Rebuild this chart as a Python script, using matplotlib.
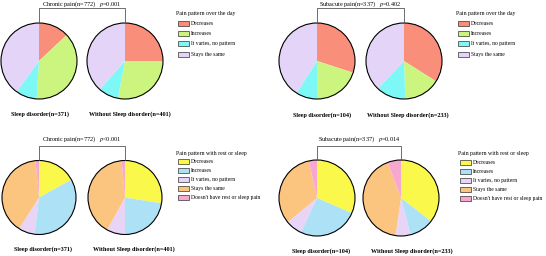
import matplotlib
matplotlib.use("Agg")
import matplotlib.pyplot as plt
from matplotlib.patches import Circle, Rectangle

plt.rcParams['font.family'] = ['Liberation Serif', 'DejaVu Serif']
plt.rcParams['mathtext.fontset'] = 'stix'

# categories
day_labels = ["Decreases", "Increases", "It varies, no pattern", "Stays the same"]
rest_labels = ["Decreases", "Increases", "It varies, no pattern", "Stays the same",
               "Doesn't have rest or sleep pain"]
day_colors = ["#F98F7B", "#CBF57E", "#7DF8F6", "#E4D4F8"]
rest_colors = ["#FBF84C", "#ADE2F6", "#E8D4F6", "#FBC47F", "#F8A8D0"]

# percentages
chronic_day_sleep = [13, 38, 9, 40]
chronic_day_nosleep = [25, 28, 8.5, 38.5]
subacute_day_sleep = [30, 20, 9, 41]
subacute_day_nosleep = [34, 15.5, 12.5, 38]
chronic_rest_sleep = [17, 35, 7, 39.5, 1.5]
chronic_rest_nosleep = [27.5, 22.5, 8, 40.5, 1.5]
subacute_rest_sleep = [31.5, 25.5, 7, 32.5, 3.5]
subacute_rest_nosleep = [35.5, 10.5, 6.3, 42, 5.7]

group_titles = ["Chronic pain(n=772)", "Subacute pain(n=337)",
                "Chronic pain(n=772)", "Subacute pain(n=337)"]
p_values = ["=0.001", "=0.402", "<0.001", "=0.014"]
left_names = ["Sleep disorder(n=371)", "Sleep disorder(n=104)",
              "Sleep disorder(n=371)", "Sleep disorder(n=104)"]
right_names = ["Without Sleep disorder(n=401)", "Without Sleep disorder(n=233)",
               "Without Sleep disorder(n=401)", "Without Sleep disorder(n=233)"]
legend_titles = ["Pain pattern over the day", "Pain pattern over the day",
                 "Pain pattern with rest or sleep", "Pain pattern with rest or sleep"]

W, H = 546, 256
fig = plt.figure(figsize=(W / 100, H / 100), dpi=100)
ax = fig.add_axes([0, 0, 1, 1])


def Y(y):
    # pixel row from the top -> data y
    return H - y


panels = [
    dict(vals=(chronic_day_sleep, chronic_day_nosleep), labels=day_labels, colors=day_colors,
         xl=39, xr=125, yc=61, r=38, br_top=8, br_bot=23, ttl_y=4, name_y=114,
         name_x=(40, 130), leg_x=178, leg_y=13, leg_step=10.3),
    dict(vals=(subacute_day_sleep, subacute_day_nosleep), labels=day_labels, colors=day_colors,
         xl=317, xr=404, yc=61, r=38, br_top=8, br_bot=23, ttl_y=4, name_y=115,
         name_x=(322, 408), leg_x=458, leg_y=13, leg_step=10.3),
    dict(vals=(chronic_rest_sleep, chronic_rest_nosleep), labels=rest_labels, colors=rest_colors,
         xl=39, xr=125, yc=197.5, r=37, br_top=146, br_bot=160, ttl_y=139, name_y=249,
         name_x=(43, 134), leg_x=178, leg_y=153, leg_step=8.9),
    dict(vals=(subacute_rest_sleep, subacute_rest_nosleep), labels=rest_labels, colors=rest_colors,
         xl=317, xr=401, yc=198, r=38, br_top=146, br_bot=160, ttl_y=139, name_y=251,
         name_x=(321, 412), leg_x=460, leg_y=154, leg_step=8.9),
]

for i, p in enumerate(panels):
    for cx, vals in zip((p["xl"], p["xr"]), p["vals"]):
        ax.pie(vals, colors=p["colors"], center=(cx, Y(p["yc"])), radius=p["r"],
               startangle=90, counterclock=False, normalize=True,
               wedgeprops=dict(linewidth=0), frame=True)
        ax.add_patch(Circle((cx, Y(p["yc"])), p["r"], fill=False, ec="black", lw=0.8))

    # bracket and group title
    ax.plot([p["xl"], p["xl"], p["xr"], p["xr"]],
            [Y(p["br_bot"]), Y(p["br_top"]), Y(p["br_top"]), Y(p["br_bot"])],
            color="#555555", lw=0.6)
    mid = (p["xl"] + p["xr"]) / 2
    ax.text(mid, Y(p["ttl_y"]),
            group_titles[i] + r"   $\it{p}$" + p_values[i],
            ha="center", va="center", fontsize=4.5)

    # group names under pies
    ax.text(p["name_x"][0], Y(p["name_y"]), left_names[i], ha="center", va="center",
            fontsize=4.4, fontweight="bold")
    ax.text(p["name_x"][1], Y(p["name_y"]), right_names[i], ha="center", va="center",
            fontsize=4.4, fontweight="bold")

    # legend
    ax.text(p["leg_x"] - 2, Y(p["leg_y"]), legend_titles[i], ha="left", va="center",
            fontsize=4.2)
    for k, (lab, col) in enumerate(zip(p["labels"], p["colors"])):
        yy = p["leg_y"] + p["leg_step"] * (k + 1)
        ax.add_patch(Rectangle((p["leg_x"], Y(yy) - 2.5), 11, 5, fc=col, ec="#333333", lw=0.5))
        ax.text(p["leg_x"] + 13, Y(yy), lab, ha="left", va="center", fontsize=4.05)

ax.set_xlim(0, W)
ax.set_ylim(0, H)
ax.set_aspect("equal")
ax.axis("off")
fig.savefig("out.png", dpi=100)
